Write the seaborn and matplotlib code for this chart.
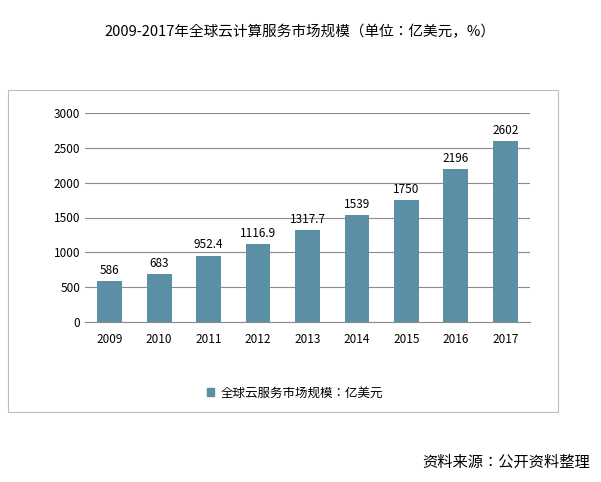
import matplotlib
matplotlib.use("Agg")
import matplotlib.pyplot as plt
from matplotlib import font_manager as fm
import seaborn as sns
import pandas as pd
from matplotlib.patches import Rectangle, Patch

years = ["2009","2010","2011","2012","2013","2014","2015","2016","2017"]
values = [586, 683, 952.4, 1116.9, 1317.7, 1539, 1750, 2196, 2602]
labels = ["586","683","952.4","1116.9","1317.7","1539","1750","2196","2602"]
yticks = [0,500,1000,1500,2000,2500,3000]

cjk = None
for f in fm.findSystemFonts():
    if "CJK" in f and ("SC" in f or "ttc" in f.lower()):
        try:
            fm.fontManager.addfont(f)
        except Exception:
            pass
        cjk = cjk or f
names = [e.name for e in fm.fontManager.ttflist if "CJK" in e.name]
fam = "Noto Sans CJK SC" if "Noto Sans CJK SC" in names else (names[0] if names else "DejaVu Sans")
cjkprop = fm.FontProperties(family=fam)
plt.rcParams["font.family"] = [fam, "DejaVu Sans"]

df = pd.DataFrame({"year": years, "value": values})
color = "#5B8FA6"

fig = plt.figure(figsize=(6.01, 4.82), dpi=100)
fig.patches.append(Rectangle((8/601, 1-412/482), 550/601, 322/482, transform=fig.transFigure,
                             fill=False, edgecolor="#BFBFBF", linewidth=0.8))
ax = fig.add_axes([85/601, 1-322/482, 445/601, 209/482])
sns.barplot(data=df, x="year", y="value", color=color, width=0.5, ax=ax, saturation=1)
for i, (v, t) in enumerate(zip(values, labels)):
    ax.text(i, v + 60, t, ha="center", va="bottom", fontsize=8.5)
ax.set_ylim(0, 3000)
ax.set_yticks(yticks)
ax.yaxis.grid(True, color="#8C8C8C", linewidth=0.8)
ax.set_axisbelow(True)
for s in ["top", "right", "left"]:
    ax.spines[s].set_visible(False)
ax.spines["bottom"].set_color("#8C8C8C")
ax.tick_params(axis="both", length=0, labelsize=8.5)
ax.tick_params(axis="x", pad=8)
ax.set_xlabel(""); ax.set_ylabel("")
fig.legend(handles=[Patch(color=color)], labels=["全球云服务市场规模：亿美元"],
           loc="center", bbox_to_anchor=(295/601, 1-393/482), frameon=False,
           prop=fm.FontProperties(family=fam, size=9),
           handlelength=0.6, handleheight=0.6, handletextpad=0.5)
fig.text(300/601, 1-32/482, "2009-2017年全球云计算服务市场规模（单位：亿美元，%）",
         ha="center", va="center", fontsize=10.5, fontproperties=fm.FontProperties(family=fam, size=10.5))
fig.text(590/601, 1-462/482, "资料来源：公开资料整理", ha="right", va="center",
         fontproperties=fm.FontProperties(family=fam, size=11))
fig.savefig("out.png", dpi=100)
